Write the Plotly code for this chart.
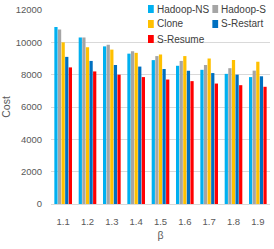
import plotly.graph_objects as go

categories = ["1.1", "1.2", "1.3", "1.4", "1.5", "1.6", "1.7", "1.8", "1.9"]
hadoop_ns = [10950, 10300, 9750, 9300, 8900, 8550, 8300, 8050, 7850]
hadoop_s = [10800, 10300, 9850, 9450, 9150, 8850, 8600, 8400, 8250]
clone = [10000, 9700, 9550, 9350, 9250, 9150, 9000, 8900, 8800]
s_restart = [9100, 8850, 8600, 8500, 8350, 8250, 8100, 8000, 7900]
s_resume = [8450, 8200, 8000, 7850, 7700, 7600, 7450, 7350, 7250]

series_names = ["Hadoop-NS", "Hadoop-S", "Clone", "S-Restart", "S-Resume"]
series_values = [hadoop_ns, hadoop_s, clone, s_restart, s_resume]
colors = ["#00B0F0", "#A5A5A5", "#FFC000", "#0070C0", "#FF0000"]
y_ticks = [0, 2000, 4000, 6000, 8000, 10000, 12000]
y_tick_labels = ["0", "2000", "4000", "6000", "8000", "10000", "12000"]

W, H = 274, 249
ML, MR, MT, MB = 42, 4, 10, 45
PW, PH = W - ML - MR, H - MT - MB

fig = go.Figure()
for name, vals, col in zip(series_names, series_values, colors):
    fig.add_trace(go.Bar(x=categories, y=vals, name=name, marker_color=col,
                         marker_line_width=0, showlegend=False))

# manual legend (two columns, top right)
legend_pos = [(143, 9), (210, 9), (143, 24), (210, 24), (143, 39)]
shapes = []
annotations = []
def px2paper(px, py):
    return (px - ML) / PW, (H - MB - py) / PH
for (px, py), name, col in zip(legend_pos, series_names, colors):
    x0, y0 = px2paper(px, py + 4)
    x1, y1 = px2paper(px + 6, py - 4)
    shapes.append(dict(type="rect", xref="paper", yref="paper", x0=x0, x1=x1,
                       y0=y0, y1=y1, fillcolor=col, line_width=0, layer="above"))
    tx, ty = px2paper(px + 7, py)
    annotations.append(dict(text=name, xref="paper", yref="paper", x=tx, y=ty,
                            xanchor="left", yanchor="middle", showarrow=False,
                            font=dict(size=10, color="#404040",
                                      family="Liberation Sans")))

fig.update_layout(
    width=W, height=H,
    margin=dict(l=ML, r=MR, t=MT, b=MB),
    paper_bgcolor="white", plot_bgcolor="white",
    barmode="group", bargap=0.26, bargroupgap=0.1,
    font=dict(family="Liberation Sans", size=9.5, color="#595959"),
    shapes=shapes, annotations=annotations,
    xaxis=dict(title=dict(text="β", font=dict(size=10.5), standoff=5),
               showgrid=False, showline=False,
               ticks="outside", ticklen=9, tickcolor="rgba(0,0,0,0)",
               tickfont=dict(size=9.5, color="#595959")),
    yaxis=dict(title=dict(text="Cost", font=dict(size=10.5), standoff=4),
               range=[0, 12000], tickvals=y_ticks, ticktext=y_tick_labels,
               showgrid=True, gridcolor="#D9D9D9", gridwidth=1,
               zeroline=True, zerolinecolor="#D9D9D9", zerolinewidth=1,
               showline=False,
               ticks="outside", ticklen=6, tickcolor="rgba(0,0,0,0)",
               tickfont=dict(size=9.5, color="#595959")),
)

fig.write_html("out.html", config={"displayModeBar": False},
               post_script="document.body.style.margin='0px';")
